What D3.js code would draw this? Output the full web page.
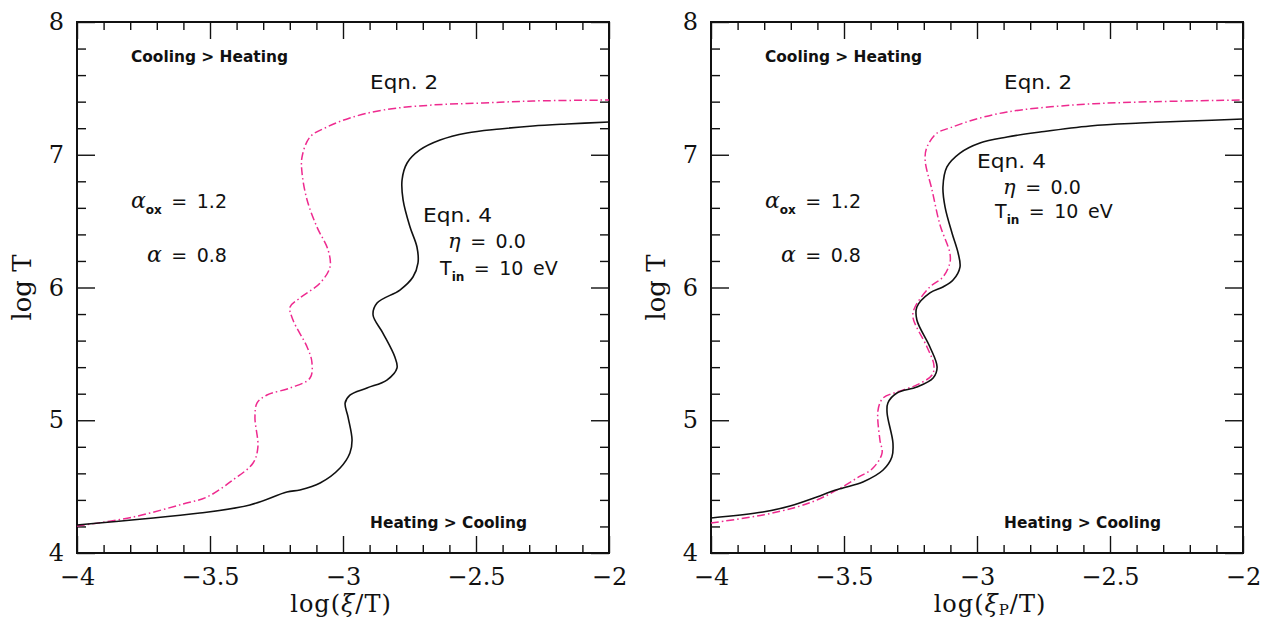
<!DOCTYPE html>
<html>
<head>
<meta charset="utf-8">
<script src="https://cdn.jsdelivr.net/npm/d3@7"></script>
<style>
  html, body { margin: 0; padding: 0; background: #fff; }
  svg { display: block; }
</style>
</head>
<body>
<svg id="chart" width="1261" height="619"></svg>
<script>
// ---------------- DATA ----------------
const xMajorTicks = [-4, -3.5, -3, -2.5, -2];
const xTickLabels = ["\u22124", "\u22123.5", "\u22123", "\u22122.5", "\u22122"];
const yMajorTicks = [4, 5, 6, 7, 8];
const yTickLabels = ["4", "5", "6", "7", "8"];
const xMinorTicks = [-3.9,-3.8,-3.7,-3.6,-3.4,-3.3,-3.2,-3.1,-2.9,-2.8,-2.7,-2.6,-2.4,-2.3,-2.2,-2.1];
const yMinorTicks = [4.2,4.4,4.6,4.8,5.2,5.4,5.6,5.8,6.2,6.4,6.6,6.8,7.2,7.4,7.6,7.8];

// Left panel: x = log(xi/T)
const leftEqn4 = [
  [-4.000,4.211],[-3.538,4.301],[-3.350,4.362],[-3.211,4.459],[-3.162,4.475],
  [-3.086,4.527],[-3.011,4.640],[-2.974,4.753],[-2.966,4.851],[-2.981,5.024],
  [-2.992,5.130],[-2.974,5.190],[-2.910,5.243],[-2.835,5.303],[-2.797,5.394],
  [-2.805,5.476],[-2.850,5.657],[-2.887,5.793],[-2.872,5.883],[-2.786,5.981],
  [-2.737,6.079],[-2.718,6.185],[-2.722,6.305],[-2.748,6.456],[-2.774,6.659],
  [-2.778,6.810],[-2.759,6.938],[-2.711,7.036],[-2.635,7.111],[-2.534,7.164],
  [-2.410,7.194],[-2.286,7.217],[-2.158,7.232],[-2.000,7.247]
];
const leftEqn2 = [
  [-4.000,4.203],[-3.789,4.271],[-3.602,4.369],[-3.511,4.422],[-3.414,4.550],
  [-3.338,4.678],[-3.320,4.798],[-3.331,5.024],[-3.323,5.130],[-3.286,5.190],
  [-3.199,5.243],[-3.124,5.318],[-3.117,5.439],[-3.135,5.552],[-3.188,5.755],
  [-3.199,5.853],[-3.162,5.921],[-3.086,6.034],[-3.049,6.154],[-3.056,6.282],
  [-3.098,6.456],[-3.135,6.659],[-3.154,6.863],[-3.154,6.983],[-3.124,7.134],
  [-3.060,7.209],[-2.974,7.277],[-2.850,7.337],[-2.662,7.375],[-2.474,7.390],
  [-2.286,7.405],[-2.000,7.412]
];
// Right panel: x = log(xi_P/T)
const rightEqn4 = [
  [-4.000,4.264],[-3.805,4.309],[-3.703,4.354],[-3.602,4.422],[-3.553,4.459],
  [-3.504,4.490],[-3.429,4.535],[-3.353,4.625],[-3.320,4.723],[-3.316,4.829],
  [-3.338,5.055],[-3.335,5.130],[-3.301,5.205],[-3.226,5.250],[-3.165,5.318],
  [-3.150,5.401],[-3.177,5.552],[-3.226,5.755],[-3.226,5.853],[-3.177,5.959],
  [-3.128,6.004],[-3.090,6.056],[-3.064,6.154],[-3.071,6.260],[-3.094,6.411],
  [-3.120,6.606],[-3.128,6.757],[-3.113,6.908],[-3.064,7.013],[-2.989,7.089],
  [-2.887,7.134],[-2.763,7.171],[-2.575,7.217],[-2.387,7.239],[-2.199,7.254],
  [-2.000,7.269]
];
const rightEqn2 = [
  [-4.000,4.226],[-3.805,4.286],[-3.677,4.347],[-3.602,4.399],[-3.526,4.475],
  [-3.451,4.565],[-3.391,4.640],[-3.357,4.753],[-3.365,4.851],[-3.372,5.077],
  [-3.353,5.168],[-3.301,5.213],[-3.226,5.266],[-3.169,5.341],[-3.162,5.416],
  [-3.188,5.552],[-3.241,5.778],[-3.233,5.853],[-3.177,6.004],[-3.128,6.079],
  [-3.102,6.185],[-3.102,6.260],[-3.139,6.471],[-3.169,6.734],[-3.195,6.960],
  [-3.188,7.058],[-3.150,7.164],[-3.102,7.202],[-3.015,7.262],[-2.887,7.322],
  [-2.639,7.375],[-2.387,7.397],[-2.000,7.412]
];

// ---------------- LAYOUT ----------------
const svg = d3.select("#chart");
const plotTop = 22, plotH = 531, plotW = 532;
const panels = [
  { left: 77,  eqn4: leftEqn4,  eqn2: leftEqn2,  xsub: null,
    eqn4Pos: [-2.699, 6.493], etaPos: [-2.605, 6.298], tinPos: [-2.635, 6.094] },
  { left: 711, eqn4: rightEqn4, eqn2: rightEqn2, xsub: "P",
    eqn4Pos: [-3.000, 6.900], etaPos: [-2.902, 6.704], tinPos: [-2.932, 6.524] }
];
const pink = "#ee2a8f";
const serif = "'DejaVu Serif', serif";
const sans = "'DejaVu Sans', sans-serif";

panels.forEach(p => {
  const x = d3.scaleLinear().domain([-4, -2]).range([p.left, p.left + plotW]);
  const y = d3.scaleLinear().domain([4, 8]).range([plotTop + plotH, plotTop]);
  const g = svg.append("g");

  const styleTicks = sel => {
    sel.select(".domain").remove();
    sel.selectAll(".tick line").attr("stroke", "#111").attr("stroke-width", 1.4);
  };
  const xb = plotTop + plotH, yr = p.left + plotW;
  g.append("g").attr("transform", `translate(0,${xb})`)
    .call(d3.axisBottom(x).tickValues(xMinorTicks).tickSizeInner(-8).tickSizeOuter(0).tickFormat(""))
    .call(styleTicks);
  g.append("g").attr("transform", `translate(0,${plotTop})`)
    .call(d3.axisTop(x).tickValues(xMinorTicks).tickSizeInner(-8).tickSizeOuter(0).tickFormat(""))
    .call(styleTicks);
  g.append("g").attr("transform", `translate(0,${plotTop})`)
    .call(d3.axisTop(x).tickValues(xMajorTicks).tickSizeInner(-17).tickSizeOuter(0).tickFormat(""))
    .call(styleTicks);
  g.append("g").attr("transform", `translate(${p.left},0)`)
    .call(d3.axisLeft(y).tickValues(yMinorTicks).tickSizeInner(-9).tickSizeOuter(0).tickFormat(""))
    .call(styleTicks);
  g.append("g").attr("transform", `translate(${yr},0)`)
    .call(d3.axisRight(y).tickValues(yMinorTicks).tickSizeInner(-9).tickSizeOuter(0).tickFormat(""))
    .call(styleTicks);
  g.append("g").attr("transform", `translate(${yr},0)`)
    .call(d3.axisRight(y).tickValues(yMajorTicks).tickSizeInner(-18).tickSizeOuter(0).tickFormat(""))
    .call(styleTicks);

  const xAx = g.append("g").attr("transform", `translate(0,${xb})`)
    .call(d3.axisBottom(x).tickValues(xMajorTicks).tickSizeInner(-17).tickSizeOuter(0).tickPadding(15)
      .tickFormat((d, i) => xTickLabels[i]))
    .call(styleTicks);
  xAx.selectAll("text").attr("font-family", serif).attr("font-size", 24).attr("fill", "#111");
  const yAx = g.append("g").attr("transform", `translate(${p.left},0)`)
    .call(d3.axisLeft(y).tickValues(yMajorTicks).tickSizeInner(-18).tickSizeOuter(0).tickPadding(13)
      .tickFormat((d, i) => yTickLabels[i]))
    .call(styleTicks);
  yAx.selectAll("text").attr("font-family", serif).attr("font-size", 24).attr("fill", "#111");

  g.append("rect").attr("x", p.left).attr("y", plotTop).attr("width", plotW).attr("height", plotH)
    .attr("fill", "none").attr("stroke", "#111").attr("stroke-width", 2);

  const line = d3.line().x(d => x(d[0])).y(d => y(d[1])).curve(d3.curveCatmullRom.alpha(0.5));
  g.append("path").datum(p.eqn2).attr("d", line).attr("fill", "none")
    .attr("stroke", pink).attr("stroke-width", 1.5).attr("stroke-dasharray", "8,3,1.5,3");
  g.append("path").datum(p.eqn4).attr("d", line).attr("fill", "none")
    .attr("stroke", "#111").attr("stroke-width", 1.6);

  const txt = (pos, s, opts = {}) => g.append("text")
    .attr("x", x(pos[0])).attr("y", y(pos[1]))
    .attr("font-family", opts.family || sans).attr("font-size", opts.size || 19)
    .attr("font-weight", opts.weight || "normal").attr("fill", "#111").text(s);

  txt([-3.797, 7.699], "Cooling > Heating", { size: 15, weight: "bold" })
    .attr("textLength", 157).attr("lengthAdjust", "spacingAndGlyphs");
  txt([-2.898, 4.188], "Heating > Cooling", { size: 15, weight: "bold" })
    .attr("textLength", 157).attr("lengthAdjust", "spacingAndGlyphs");
  txt([-2.898, 7.495], "Eqn. 2").attr("textLength", 68).attr("lengthAdjust", "spacingAndGlyphs");
  txt(p.eqn4Pos, "Eqn. 4").attr("textLength", 69).attr("lengthAdjust", "spacingAndGlyphs");

  const eta = txt(p.etaPos, "");
  eta.append("tspan").attr("font-family", serif).attr("font-style", "italic").attr("font-size", 21).text("\u03B7");
  eta.append("tspan").text("\u2002=\u20020.0");
  const tin = txt(p.tinPos, "");
  tin.append("tspan").text("T");
  tin.append("tspan").attr("font-size", 12).attr("font-weight", "bold").attr("dy", 6).text("in");
  tin.append("tspan").attr("dy", -6).text("\u2002=\u200210\u2002eV");
  const aox = txt([-3.797, 6.599], "");
  aox.append("tspan").attr("font-family", serif).attr("font-style", "italic").attr("font-size", 22).text("\u03B1");
  aox.append("tspan").attr("font-size", 12).attr("font-weight", "bold").attr("dy", 6).text("ox");
  aox.append("tspan").attr("dy", -6).text("\u2002=\u20021.2");
  const al = txt([-3.737, 6.192], "");
  al.append("tspan").attr("font-family", serif).attr("font-style", "italic").attr("font-size", 22).text("\u03B1");
  al.append("tspan").text("\u2002=\u20020.8");

  const cx = p.left + plotW / 2;
  const xt = g.append("text").attr("x", cx + (p.xsub ? 13 : -2)).attr("y", 612)
    .attr("text-anchor", "middle").attr("font-family", serif).attr("font-size", 24).attr("fill", "#111")
    .attr("letter-spacing", 1);
  xt.append("tspan").text("log(");
  xt.append("tspan").attr("font-style", "italic").text("\u03BE");
  if (p.xsub) {
    xt.append("tspan").attr("font-size", 15).attr("dy", 3).text(p.xsub);
    xt.append("tspan").attr("dy", -3).text("/T)");
  } else {
    xt.append("tspan").text("/T)");
  }
  g.append("text").attr("transform", `translate(${p.left - 46},${plotTop + plotH / 2}) rotate(-90)`)
    .attr("text-anchor", "middle").attr("font-family", serif).attr("font-size", 26).attr("fill", "#111")
    .text("log T");
});
</script>
</body>
</html>
